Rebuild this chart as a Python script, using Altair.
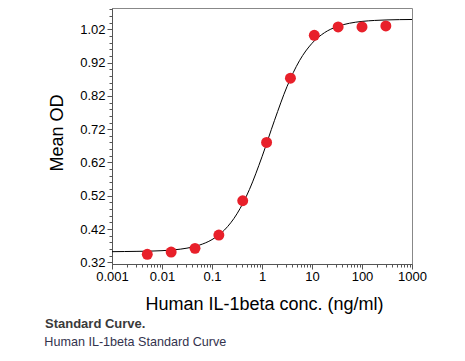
import altair as alt
import pandas as pd

# Standard points (ng/ml, mean OD)
conc = [0.00508, 0.01524, 0.04572, 0.1372, 0.4115, 1.235, 3.704, 11.11, 33.33, 100, 300]
od = [0.344, 0.351, 0.362, 0.402, 0.505, 0.680, 0.873, 1.002, 1.027, 1.027, 1.030]

# Fitted curve
curve_x = [0.001, 0.00178, 0.00316, 0.00562, 0.01, 0.0178, 0.0316, 0.0562, 0.1, 0.178,
           0.316, 0.562, 1, 1.78, 3.16, 5.62, 10, 17.8, 31.6, 56.2, 100, 178, 316, 562, 1000]
curve_y = [0.352, 0.3525, 0.353, 0.3536, 0.355, 0.3577, 0.3626, 0.3718, 0.3883, 0.4173,
           0.4658, 0.5392, 0.6371, 0.7466, 0.8477, 0.9258, 0.978, 1.0099, 1.0281, 1.0382,
           1.0437, 1.0466, 1.0482, 1.0491, 1.0495]

x_major = [0.001, 0.01, 0.1, 1, 10, 100, 1000]
x_minor = [m * d for d in [0.001, 0.01, 0.1, 1, 10, 100] for m in range(2, 10)]
y_major = [0.32, 0.42, 0.52, 0.62, 0.72, 0.82, 0.92, 1.02]
y_minor = [round(0.32 + 0.02 * k, 2) for k in range(39)]

x_title = "Human IL-1beta conc. (ng/ml)"
y_title = "Mean OD"
caption_title = "Standard Curve."
caption_text = "Human IL-1beta Standard Curve"

FONT = "Liberation Sans"
AX = "#555555"

xscale = alt.Scale(type="log", domain=[0.001, 1000], nice=False)
yscale = alt.Scale(domain=[0.315, 1.084], nice=False, zero=False)

minor_x_axis = alt.Axis(values=x_minor, labels=False, tickSize=3, domain=False, grid=False,
                        orient="bottom", title="", tickColor=AX)
minor_y_axis = alt.Axis(values=y_minor, labels=False, tickSize=3, domain=False, grid=False,
                        orient="left", title="", tickColor=AX)

major_x_axis = alt.Axis(values=x_major, format="~g", orient="bottom", tickSize=5, labelPadding=1,
                        labelFontSize=13, labelFont=FONT, labelColor="black", labelFlush=False,
                        labelOverlap=False, tickColor=AX, domainColor=AX, grid=False,
                        title=x_title, titleFont=FONT, titleFontSize=18, titleFontWeight="normal",
                        titleColor="black", titleX=152, titleY=45, titleAlign="center",
                        titleBaseline="alphabetic")
major_y_axis = alt.Axis(values=y_major, format=".2f", orient="left", tickSize=5, labelPadding=2,
                        labelFontSize=13, labelFont=FONT, labelColor="black", labelFlush=False,
                        labelOverlap=False, tickColor=AX, domainColor=AX, grid=False,
                        title=y_title, titleFont=FONT, titleFontSize=18, titleFontWeight="normal",
                        titleColor="black", titleX=-55, titleY=124.5, titleAngle=-90,
                        titleAlign="center", titleBaseline="middle")

curve_df = pd.DataFrame({"x": curve_x, "y": curve_y})
pts_df = pd.DataFrame({"x": conc, "y": od})

line = alt.Chart(curve_df).mark_line(color="black", strokeWidth=1, interpolate="monotone").encode(
    x=alt.X("x:Q", scale=xscale, axis=minor_x_axis),
    y=alt.Y("y:Q", scale=yscale, axis=minor_y_axis),
)

points = alt.Chart(pts_df).mark_circle(color="#e8202a", opacity=1, size=120).encode(
    x=alt.X("x:Q", scale=xscale, axis=major_x_axis),
    y=alt.Y("y:Q", scale=yscale, axis=major_y_axis),
)

cap1 = alt.Chart(pd.DataFrame({"t": [caption_title]})).mark_text(
    font=FONT, fontSize=13, fontWeight="bold", color="#3a3a3a", align="left", baseline="alphabetic"
).encode(x=alt.value(-67), y=alt.value(320.3), text="t:N")

cap2 = alt.Chart(pd.DataFrame({"t": [caption_text]})).mark_text(
    font=FONT, fontSize=12.6, color="#33334d", align="left", baseline="alphabetic"
).encode(x=alt.value(-67.7), y=alt.value(338), text="t:N")

chart = alt.layer(line, points, cap1, cap2).resolve_axis(
    x="independent", y="independent"
).properties(
    width=300, height=256,
    padding={"left": 104, "top": 0, "right": 45, "bottom": 90},
    autosize=alt.AutoSizeParams(type="none"),
).configure_view(stroke="#888888", strokeWidth=1)

chart.save("out.html", embed_options={"renderer": "svg", "actions": False})
